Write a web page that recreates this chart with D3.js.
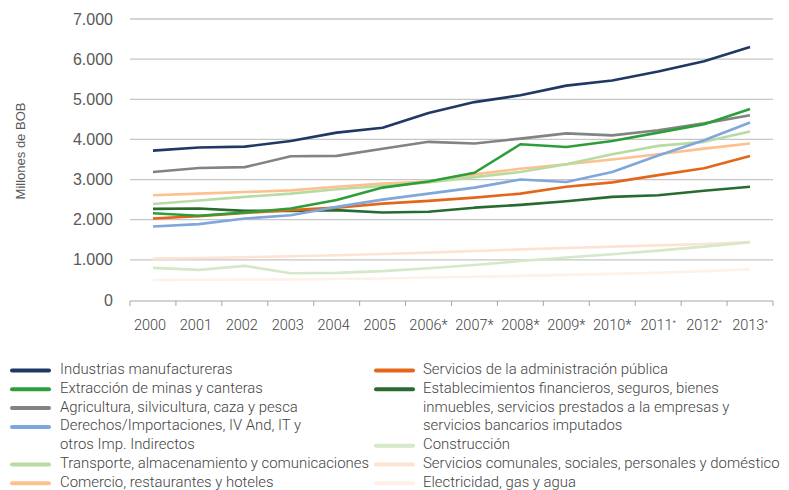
<!DOCTYPE html>
<html>
<head>
<meta charset="utf-8">
<script src="https://cdn.jsdelivr.net/npm/d3@7/dist/d3.min.js"></script>
<style>
  body { margin: 0; background: #fff; }
  svg { display: block; }
</style>
</head>
<body>
<svg id="chart" width="789" height="490"></svg>
<script>
// Years on the horizontal axis
const years = ["2000","2001","2002","2003","2004","2005","2006*","2007*","2008*","2009*","2010*","2011*","2012*","2013*"];
// Years whose asterisk is printed small and raised
const smallMark = ["2011*","2012*","2013*"];

const yTicks = [0, 1000, 2000, 3000, 4000, 5000, 6000, 7000];

// Series names ("\n" marks a line break in the legend)
const names = [
  "Industrias manufactureras",
  "Extracción de minas y canteras",
  "Agricultura, silvicultura, caza y pesca",
  "Derechos/Importaciones, IV And, IT y\notros Imp. Indirectos",
  "Transporte, almacenamiento y comunicaciones",
  "Comercio, restaurantes y hoteles",
  "Servicios de la administración pública",
  "Establecimientos financieros, seguros, bienes\ninmuebles, servicios prestados a la empresas y\nservicios bancarios imputados",
  "Construcción",
  "Servicios comunales, sociales, personales y doméstico",
  "Electricidad, gas y agua"
];

const colors = ["#203864","#2e9e3a","#838383","#7fa7dc","#b8dba3","#fdc08e",
                "#e3661a","#276b2f","#d5e8c8","#fde3d1","#fdf1e8"];

// Millones de BOB, 2000–2013
const manufactureras = [3720,3800,3820,3960,4170,4290,4660,4930,5100,5340,5470,5690,5950,6300];
const minas          = [2160,2100,2180,2280,2490,2800,2950,3170,3880,3810,3960,4170,4380,4760];
const agricultura    = [3190,3290,3310,3580,3590,3770,3940,3900,4020,4150,4100,4230,4400,4600];
const derechos       = [1830,1890,2030,2110,2320,2500,2650,2800,3000,2940,3190,3600,3980,4420];
const transporte     = [2390,2480,2570,2650,2760,2840,2930,3060,3190,3380,3630,3840,3940,4200];
const comercio       = [2610,2650,2690,2730,2820,2900,2950,3130,3270,3380,3500,3630,3770,3900];
const administracion = [2030,2090,2170,2240,2300,2400,2470,2550,2650,2820,2930,3110,3280,3590];
const financieros    = [2270,2280,2220,2220,2240,2180,2200,2300,2370,2460,2570,2610,2720,2820];
const construccion   = [800,750,850,665,675,720,790,870,970,1060,1140,1230,1330,1440];
const comunales      = [1030,1045,1065,1090,1115,1145,1180,1220,1260,1295,1330,1360,1395,1445];
const electricidad   = [500,505,510,515,525,535,560,580,600,625,650,680,720,765];

const seriesValues = [manufactureras, minas, agricultura, derechos, transporte, comercio,
                      administracion, financieros, construccion, comunales, electricidad];

const svg = d3.select("#chart");
const plot = { left: 130, right: 773, top: 19, bottom: 300 };

const x = d3.scaleBand().domain(years).range([plot.left, plot.right]).padding(0);
const y = d3.scaleLinear().domain([0, 7000]).range([plot.bottom, plot.top]);

const axisFont = "'Liberation Sans', Arial, sans-serif";
const bodyFont = "Roboto, 'Noto Sans', sans-serif";
const textColor = "#595959";

// Horizontal gridlines
svg.append("g")
  .selectAll("line")
  .data(yTicks.filter(d => d > 0))
  .join("line")
  .attr("x1", plot.left).attr("x2", plot.right)
  .attr("y1", d => y(d)).attr("y2", d => y(d))
  .attr("stroke", "#c6c6c6").attr("stroke-width", 1.3);

// Y axis labels
const yAxis = svg.append("g")
  .attr("transform", `translate(${plot.left - 14},0)`)
  .call(d3.axisLeft(y).tickValues(yTicks).tickSize(0)
        .tickFormat(d => d3.format(",")(d).replace(/,/g, ".")));
yAxis.select(".domain").remove();
yAxis.selectAll("text")
  .attr("font-family", axisFont).attr("font-size", 16).attr("fill", textColor);

// X axis with ticks between categories
const xAxisG = svg.append("g").attr("transform", `translate(0,${plot.bottom + 1})`);
xAxisG.append("line")
  .attr("x1", plot.left).attr("x2", plot.right)
  .attr("stroke", "#a6a6a6").attr("stroke-width", 1);
xAxisG.selectAll("line.tick")
  .data(years.concat(["end"]))
  .join("line")
  .attr("class", "tick")
  .attr("x1", (d, i) => plot.left + i * x.step())
  .attr("x2", (d, i) => plot.left + i * x.step())
  .attr("y1", 0).attr("y2", 5)
  .attr("stroke", "#a6a6a6").attr("stroke-width", 1);

const xLabels = xAxisG.selectAll("text")
  .data(years)
  .join("text")
  .attr("x", d => x(d) + x.bandwidth() / 2 + (d.includes("*") ? 0 : -3))
  .attr("y", 29)
  .attr("text-anchor", "middle")
  .attr("font-family", bodyFont).attr("font-weight", 300)
  .attr("font-size", 14.5).attr("fill", "#444");
xLabels.each(function(d) {
  const t = d3.select(this);
  if (smallMark.includes(d)) {
    t.append("tspan").text(d.replace("*", ""));
    t.append("tspan").text("*").attr("font-size", 8).attr("dy", -5);
  } else {
    t.text(d);
  }
});

// Y axis title
svg.append("text")
  .attr("transform", `translate(25,151) rotate(-90)`)
  .attr("text-anchor", "middle")
  .attr("font-family", axisFont).attr("font-size", 13).attr("fill", textColor)
  .text("Millones de BOB");

// Series lines (last drawn on top)
const line = d3.line()
  .x((d, i) => x(years[i]) + x.bandwidth() / 2)
  .y(d => y(d));

const order = d3.range(seriesValues.length).reverse();
svg.append("g")
  .selectAll("path")
  .data(order)
  .join("path")
  .attr("d", i => line(seriesValues[i]))
  .attr("fill", "none")
  .attr("stroke", i => colors[i])
  .attr("stroke-width", 2.6)
  .attr("stroke-linejoin", "round");

// Legend in two columns
const legendCols = [
  { x0: 12, x1: 49, tx: 60, items: [0, 1, 2, 3, 4, 5] },
  { x0: 376, x1: 413, tx: 423, items: [6, 7, 8, 9, 10] }
];
const rowTop = 369, rowStep = 18.8;
const legend = svg.append("g");
legendCols.forEach(col => {
  let row = 0;
  col.items.forEach(i => {
    const lines = names[i].split("\n");
    const yy = rowTop + row * rowStep;
    legend.append("line")
      .attr("x1", col.x0).attr("x2", col.x1)
      .attr("y1", yy + 1.5).attr("y2", yy + 1.5)
      .attr("stroke", colors[i]).attr("stroke-width", 4)
      .attr("stroke-linecap", "round");
    lines.forEach((ln, k) => {
      legend.append("text")
        .attr("x", col.tx).attr("y", yy + k * rowStep + 5)
        .attr("font-family", bodyFont).attr("font-weight", 300)
        .attr("font-size", 14.9).attr("fill", "#444")
        .text(ln);
    });
    row += lines.length;
  });
});
</script>
</body>
</html>
